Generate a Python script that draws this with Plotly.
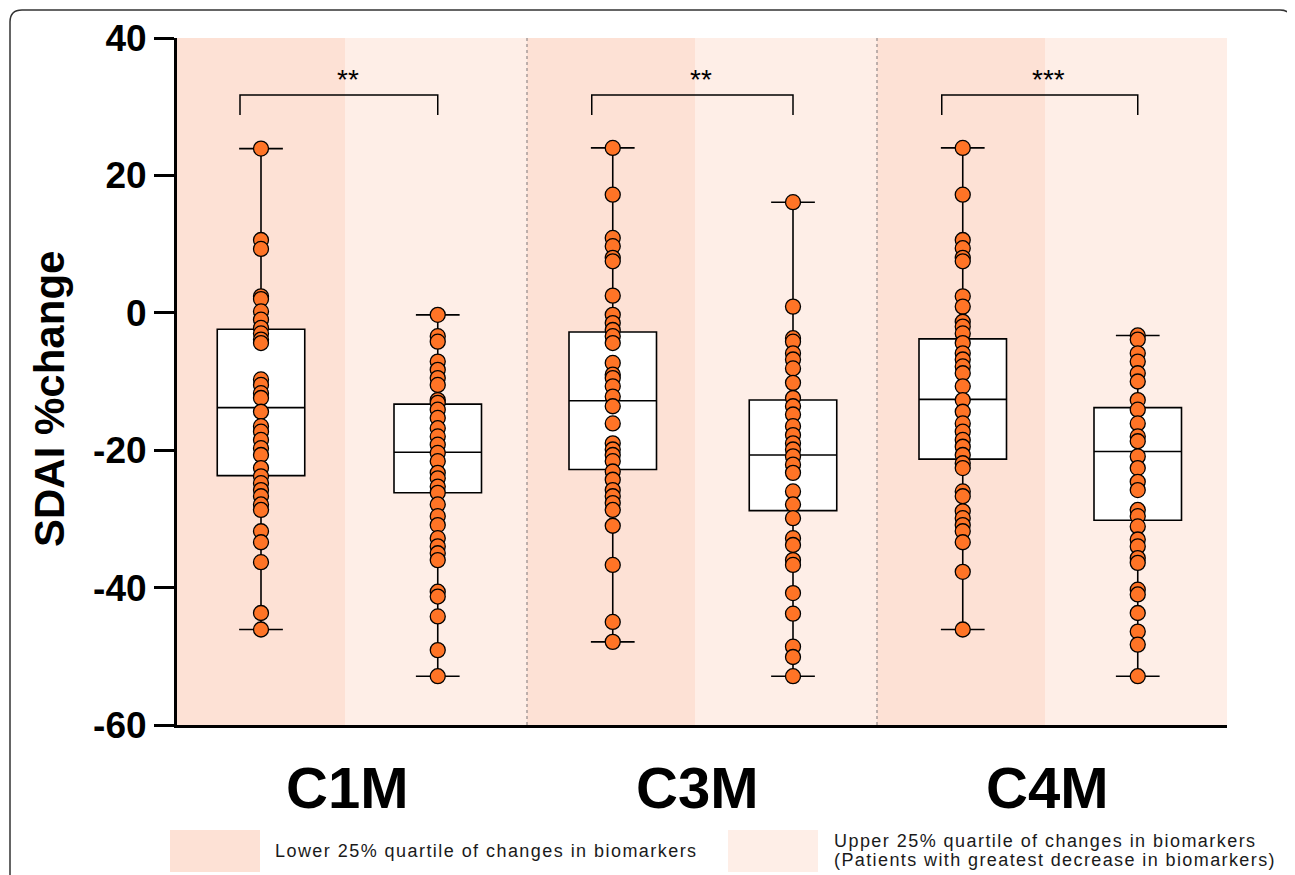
import plotly.graph_objects as go

# ---------------- data ----------------
categories = ["C1M", "C3M", "C4M"]
group_positions = [0.48, 1.49, 2.49, 3.52, 4.49, 5.49]  # lower / upper quartile groups per category

c1_lower = [23.9, 10.6, 9.3, 2.4, 2.0, 0.2, -1.0, -2.2, -3.0, -3.9, -4.4, -9.7, -10.5, -11.7,
            -12.4, -14.4, -16.5, -17.3, -18.5, -19.7, -20.7, -22.6, -23.8, -24.8, -25.8, -26.7,
            -27.9, -28.7, -31.8, -33.4, -36.3, -43.7, -46.1]
c1_upper = [-0.3, -3.4, -4.2, -7.1, -8.3, -9.5, -10.5, -12.7, -13.1, -14.1, -15.3, -16.8, -18.0,
            -19.2, -20.4, -21.6, -23.3, -24.1, -25.3, -26.2, -27.9, -29.6, -30.9, -32.8, -34.0,
            -35.0, -36.0, -40.6, -41.3, -44.2, -49.1, -52.9]
c3_lower = [24.0, 17.2, 10.9, 9.7, 8.0, 7.5, 2.5, -0.3, -1.5, -2.5, -3.4, -4.4, -7.3, -9.0, -9.5,
            -10.7, -12.2, -13.6, -16.1, -19.0, -19.9, -20.7, -21.6, -23.1, -24.3, -25.8, -26.7,
            -27.7, -28.7, -31.0, -36.7, -45.0, -47.9]
c3_upper = [16.1, 0.9, -3.7, -4.2, -5.9, -6.8, -8.1, -10.2, -12.4, -13.6, -14.8, -16.5, -17.8,
            -19.0, -19.9, -20.9, -22.1, -23.3, -26.0, -27.9, -29.9, -32.8, -33.8, -36.0, -36.7,
            -40.8, -43.8, -48.6, -50.1, -52.9]
c4_lower = [24.0, 17.2, 10.6, 9.4, 8.0, 7.5, 2.4, 0.9, -1.3, -2.0, -3.0, -4.4, -5.9, -6.8, -7.8,
            -8.8, -10.7, -12.7, -14.4, -16.1, -17.3, -18.5, -19.5, -20.7, -21.9, -22.6, -26.0,
            -26.7, -28.9, -29.9, -30.9, -31.8, -33.4, -37.7, -46.1]
c4_upper = [-3.3, -3.9, -5.9, -7.1, -8.8, -10.0, -12.7, -14.1, -16.1, -18.0, -18.7, -20.9, -22.6,
            -24.6, -25.8, -28.7, -29.6, -31.1, -33.0, -34.0, -35.7, -36.4, -40.3, -41.0, -43.7,
            -46.4, -48.3, -52.9]

groups = [c1_lower, c1_upper, c3_lower, c3_upper, c4_lower, c4_upper]

# box statistics
q1_values = [-23.7, -26.2, -22.8, -28.8, -21.3, -30.2]
median_values = [-13.8, -20.3, -12.8, -20.7, -12.6, -20.2]
q3_values = [-2.4, -13.3, -2.8, -12.7, -3.8, -13.8]

significance = ["**", "**", "***"]
legend_labels = ["Lower 25% quartile of changes in biomarkers",
                 "Upper 25% quartile of changes in biomarkers",
                 "(Patients with greatest decrease in biomarkers)"]
y_ticks = [-60, -40, -20, 0, 20, 40]

# ---------------- styling / layout ----------------
OFF = 8                      # page offset of the figure inside the browser window
W, H = 1295 - OFF, 875 - OFF
L, R, T, B = 177 - OFF, 1227 - OFF, 38 - OFF, 725 - OFF
DARK = "#FDE1D5"
LIGHT = "#FEEEE7"
ORANGE = "#FF7426"
FONT = "Liberation Sans, Arial, sans-serif"


def pxx(p):
    """reference-screenshot x pixel -> paper"""
    return (p - OFF - L) / (R - L)


def pxy(p):
    """reference-screenshot y pixel -> paper"""
    return (B - (p - OFF)) / (B - T)


fig = go.Figure()

for pos, data, q1, med, q3 in zip(group_positions, groups, q1_values, median_values, q3_values):
    fig.add_trace(go.Box(
        x=[pos], q1=[q1], median=[med], q3=[q3],
        lowerfence=[min(data)], upperfence=[max(data)],
        width=0.5, whiskerwidth=0.5, boxpoints=False,
        fillcolor="white", line=dict(color="black", width=1.6),
        showlegend=False, hoverinfo="skip",
    ))

for pos, data in zip(group_positions, groups):
    fig.add_trace(go.Scatter(
        x=[pos] * len(data), y=data, mode="markers",
        marker=dict(size=15, color=ORANGE, line=dict(color="black", width=1.3)),
        showlegend=False,
    ))

shapes = []
# background bands
for i in range(3):
    x0 = 2 * i
    shapes.append(dict(type="rect", xref="x", yref="y", x0=x0, x1=x0 + 0.96, y0=-60, y1=40,
                       fillcolor=DARK, line=dict(width=0), layer="below"))
    shapes.append(dict(type="rect", xref="x", yref="y", x0=x0 + 0.96, x1=x0 + 2, y0=-60, y1=40,
                       fillcolor=LIGHT, line=dict(width=0), layer="below"))
# dotted dividers
for xd in [2, 4]:
    shapes.append(dict(type="line", xref="x", yref="y", x0=xd, x1=xd, y0=-60, y1=40,
                       line=dict(color="#A89C9A", width=1.5, dash="dot"), layer="below"))

# significance brackets
annotations = []
for i, star in enumerate(significance):
    xa = group_positions[2 * i] - 0.12
    xb = group_positions[2 * i + 1]
    shapes.append(dict(type="path", xref="x", yref="y",
                       path=f"M {xa},28.8 L {xa},31.7 L {xb},31.7 L {xb},28.8",
                       line=dict(color="black", width=1.5)))
    annotations.append(dict(x=(xa + xb) / 2 + 0.05, y=34.0, xref="x", yref="y", text=star,
                            showarrow=False, font=dict(family=FONT, size=28, color="black"),
                            yanchor="middle"))

# category labels
for i, cat in enumerate(categories):
    annotations.append(dict(x=2 * i + 0.97, y=pxy(787), xref="x", yref="paper", text=f"<b>{cat}</b>",
                            showarrow=False, font=dict(family=FONT, size=58, color="black"),
                            yanchor="middle", xanchor="center"))

# y-axis title
annotations.append(dict(x=pxx(50), y=pxy(399), xref="paper", yref="paper", text="<b>SDAI %change</b>",
                        textangle=-90, showarrow=False, font=dict(family=FONT, size=42, color="black"),
                        xanchor="center", yanchor="middle"))

# legend swatches and labels
shapes.append(dict(type="rect", xref="paper", yref="paper", x0=pxx(170), x1=pxx(260), y0=pxy(872), y1=pxy(830),
                   fillcolor=DARK, line=dict(width=0)))
shapes.append(dict(type="rect", xref="paper", yref="paper", x0=pxx(728), x1=pxx(818), y0=pxy(872), y1=pxy(830),
                   fillcolor=LIGHT, line=dict(width=0)))
SPACED = '<span style="letter-spacing:{}px">{}</span>'
legend_font = dict(family=FONT, size=18, color="#1a1a1a")
annotations.append(dict(x=pxx(273), y=pxy(851), xref="paper", yref="paper",
                        text=SPACED.format(1.45, legend_labels[0]),
                        showarrow=False, font=legend_font, xanchor="left", yanchor="middle", align="left"))
annotations.append(dict(x=pxx(832), y=pxy(841), xref="paper", yref="paper",
                        text=SPACED.format(1.45, legend_labels[1]),
                        showarrow=False, font=legend_font, xanchor="left", yanchor="middle", align="left"))
annotations.append(dict(x=pxx(832), y=pxy(860), xref="paper", yref="paper",
                        text=SPACED.format(1.4, legend_labels[2]),
                        showarrow=False, font=legend_font, xanchor="left", yanchor="middle", align="left"))

# outer rounded frame
fx0, fx1, fy0, fyb, r = 10, 1292, 10, 900, 12
path = (f"M {pxx(fx0)},{pxy(fyb)} L {pxx(fx0)},{pxy(fy0 + r)} Q {pxx(fx0)},{pxy(fy0)} {pxx(fx0 + r)},{pxy(fy0)} "
        f"L {pxx(fx1 - r)},{pxy(fy0)} Q {pxx(fx1)},{pxy(fy0)} {pxx(fx1)},{pxy(fy0 + r)} L {pxx(fx1)},{pxy(fyb)}")
shapes.append(dict(type="path", xref="paper", yref="paper", path=path,
                   line=dict(color="#333333", width=1.5)))

fig.update_layout(
    width=W, height=H,
    margin=dict(l=L, r=W - R, t=T, b=H - B, autoexpand=False),
    paper_bgcolor="white", plot_bgcolor="white",
    shapes=shapes, annotations=annotations,
    showlegend=False,
    xaxis=dict(range=[0, 6], showline=True, linecolor="black", linewidth=3, showticklabels=False,
               ticks="", showgrid=False, zeroline=False, fixedrange=True),
    yaxis=dict(range=[-60, 40], tickvals=y_ticks, ticktext=[f"<b>{v}</b>" for v in y_ticks],
               showline=True, linecolor="black", linewidth=3, ticks="outside", ticklen=20, tickwidth=3,
               tickcolor="black", tickfont=dict(family=FONT, size=37, color="black"),
               showgrid=False, zeroline=False, fixedrange=True),
)

fig.write_html("out.html")
